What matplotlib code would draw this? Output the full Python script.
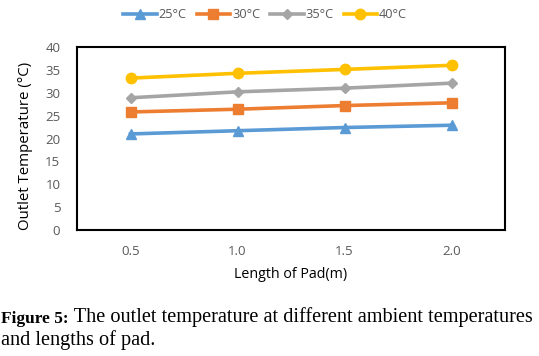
import matplotlib
matplotlib.use("Agg")
import matplotlib.pyplot as plt
from matplotlib.text import Annotation

categories = ["0.5", "1.0", "1.5", "2.0"]
series_names = ["25°C", "30°C", "35°C", "40°C"]
s25 = [21.0, 21.7, 22.4, 22.9]
s30 = [25.8, 26.4, 27.2, 27.8]
s35 = [28.9, 30.2, 31.0, 32.1]
s40 = [33.2, 34.25, 35.1, 36.0]
yticks = [0, 5, 10, 15, 20, 25, 30, 35, 40]

colors = ["#5B9BD5", "#ED7D31", "#A5A5A5", "#FFC000"]
markers = ["^", "s", "D", "o"]
msizes = [7, 7, 5.5, 7.5]

fig = plt.figure(figsize=(5.39, 3.56), dpi=100)
ax = fig.add_axes([77/539, 1-230/356, (505-77)/539, (230-47)/356])

x = list(range(len(categories)))
for name, vals, c, m, ms in zip(series_names, [s25, s30, s35, s40], colors, markers, msizes):
    ax.plot(x, vals, color=c, marker=m, markersize=ms, linewidth=2.6, label=name)

ax.set_xlim(-0.5, len(categories) - 0.5)
ax.set_ylim(0, 40)
ax.set_xticks(x)
ax.set_xticklabels(categories)
ax.set_yticks(yticks)
ax.tick_params(length=0, labelsize=9.5, colors="#595959")
ax.tick_params(axis="y", pad=12)
ax.tick_params(axis="x", pad=11)
for sp in ax.spines.values():
    sp.set_linewidth(1.5)
    sp.set_color("black")
for lab in ax.get_xticklabels() + ax.get_yticklabels():
    lab.set_fontfamily("Open Sans")

ax.set_xlabel("Length of Pad(m)", fontsize=10.3, fontfamily="Open Sans", labelpad=6)
ax.set_ylabel("Outlet Temperature (°C)", fontsize=10.8, fontfamily="Open Sans")
ax.yaxis.set_label_coords(-0.103, 0.46)

leg = fig.legend(loc="center", bbox_to_anchor=(0.492, 1-15/356), ncol=4, frameon=False,
                 prop={"family": "Open Sans", "size": 9.2}, handlelength=2.6,
                 columnspacing=0.8, handletextpad=0.15)
for t in leg.get_texts():
    t.set_color("#595959")

bold = fig.text(0.002, 1-323/356, "Figure 5:", fontsize=12.5, fontweight="bold",
                fontfamily="Liberation Serif", va="baseline", ha="left")
a = Annotation(" The outlet temperature at different ambient temperatures",
               xy=(1.0, 0.0), xycoords=bold, fontsize=14.6, fontfamily="Liberation Serif",
               va="bottom", ha="left")
fig.add_artist(a)
fig.text(0.002, 1-345/356, "and lengths of pad.", fontsize=14.6,
         fontfamily="Liberation Serif", va="baseline", ha="left")

fig.savefig("out.png", dpi=100)
